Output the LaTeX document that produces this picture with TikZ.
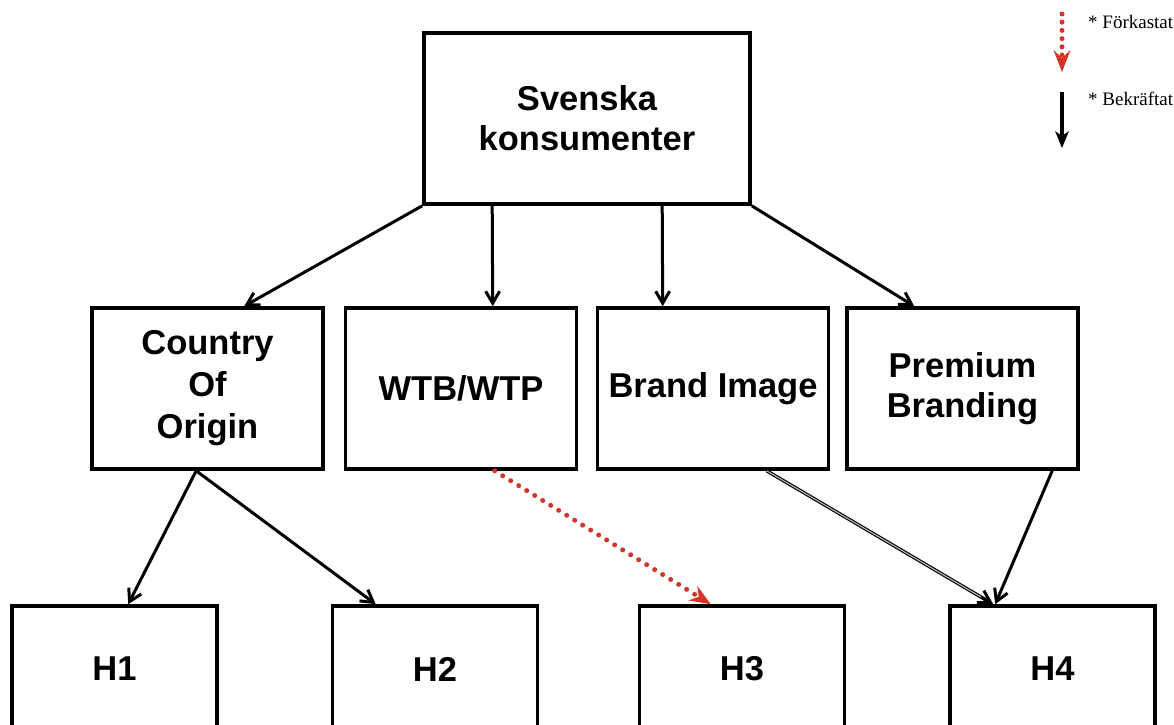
\documentclass[tikz,border=0pt]{standalone}
\usepackage{fontspec}
\setmainfont{Liberation Sans}
\newfontfamily\legendfont{Liberation Serif}
\usetikzlibrary{arrows.meta,calc}
\definecolor{redarrow}{RGB}{214,50,40}
\begin{document}
\begin{tikzpicture}[x=1pt,y=-1pt,
  box/.style={draw,line width=3.6pt,inner sep=0pt,align=center,
    font=\fontsize{34.5}{40}\selectfont\bfseries},
  hbox/.style={box,minimum width=205pt,minimum height=126pt},
  midbox/.style={box,minimum width=231pt,minimum height=161pt},
  conn/.style={line width=3pt,line join=round,
    -{Straight Barb[length=12pt,width=14pt]}},
  reject/.style={draw=redarrow,line width=5pt,line cap=round,
    dash pattern=on 0pt off 9.4pt,
    -{Stealth[length=21pt,width=17pt,inset=7pt,line width=0pt,fill=redarrow]}},
  legreject/.style={draw=redarrow,line width=5pt,line cap=round,
    dash pattern=on 0pt off 8.2pt,
    -{Stealth[length=22pt,width=17pt,inset=8pt,line width=0pt,fill=redarrow]}},
  legconfirm/.style={line width=3.2pt,
    -{Stealth[length=17pt,width=14pt,inset=5pt,line width=0pt]}},
  doubleconn/.style={draw=black,line width=1.1pt,double=gray!60,double distance=1.2pt},
  legtext/.style={anchor=base west,inner sep=0pt,font=\legendfont\fontsize{19}{20}\selectfont}
]
\useasboundingbox (0,0) rectangle (1174,724);
\clip (0,0) rectangle (1174,724);

% nodes
\node[box,minimum width=326pt,minimum height=171pt] (sk) at (587,118.5) {Svenska\\konsumenter};
\node[midbox,font=\fontsize{34.5}{42}\selectfont\bfseries] (coo) at (207.5,388.5) {Country\\Of\\Origin};
\node[midbox] (wtb) at (461,388.5) {WTB/WTP};
\node[midbox] (bi) at (713,388.5) {Brand Image};
\node[midbox] (pb) at (962.5,388.5) {Premium\\Branding};
\node[hbox] (h1) at (114.5,669) {H1};
\node[hbox] (h2) at (435,669) {H2};
\node[hbox] (h3) at (742,669) {H3};
\node[hbox] (h4) at (1052.5,669) {H4};

% top-level connectors
\draw[conn] (sk.south west) -- ($(coo.north west)+(154,0)$);
\draw[conn] ($(sk.south west)+(70,0)$) -- ($(wtb.north west)+(149,0)$);
\draw[conn] ($(sk.south west)+(240,0)$) -- ($(bi.north west)+(67,0)$);
\draw[conn] (sk.south east) -- ($(pb.north west)+(69,0)$);

% second-level connectors
\coordinate (cooS) at ($(coo.south west)+(106,0)$);
\draw[conn] (cooS) -- ($(h1.north west)+(118,0)$);
\draw[conn] (cooS) -- ($(h2.north west)+(45,0)$);
\draw[reject] ($(wtb.south west)+(151,0)$) -- ($(h3.north west)+(73,0)$);

\coordinate (biS) at ($(bi.south west)+(171,0)$);
\coordinate (h4A) at ($(h4.north west)+(45,0)$);
\draw[doubleconn] (biS) -- ($(h4A)!6pt!(biS)$);
\draw[conn] ($(h4A)!14pt!(biS)$) -- (h4A);
\draw[conn] ($(pb.south west)+(207,0)$) -- ($(h4.north west)+(47,0)$);

% legend
\coordinate (la) at (1062,14);
\coordinate (lb) at (1062,72);
\coordinate (lc) at (1062,92);
\coordinate (ld) at (1062,148);
\draw[legreject] (la) -- (lb);
\draw[legconfirm] (lc) -- (ld);
\node[legtext] (lt1) at (1088,28) {* Förkastat};
\node[legtext] (lt2) at (1088,105) {* Bekräftat};
\end{tikzpicture}
\end{document}
